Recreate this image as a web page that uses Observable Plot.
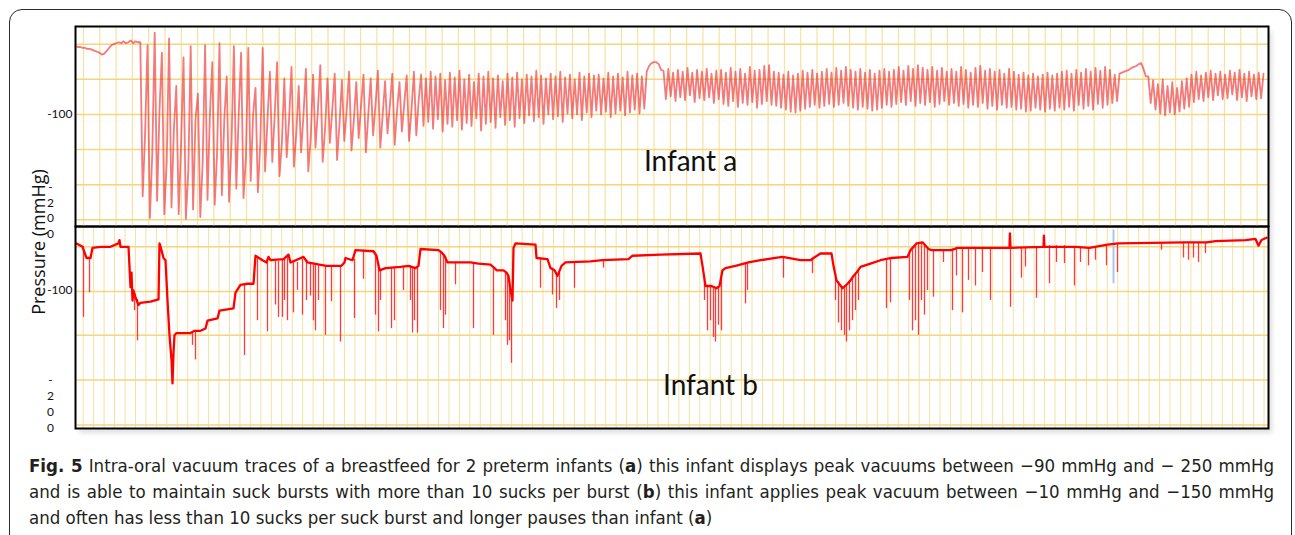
<!DOCTYPE html>
<html><head><meta charset="utf-8">
<script src="https://cdn.jsdelivr.net/npm/d3@7"></script>
<script src="https://cdn.jsdelivr.net/npm/@observablehq/plot@0.6"></script>
<style>
html,body{margin:0;padding:0;background:#fff;}
#wrap{position:relative;width:1295px;height:535px;overflow:hidden;}
#border{position:absolute;left:9px;top:9px;width:1283px;height:560px;border:1.5px solid #2b2b2b;border-radius:13px;box-sizing:border-box;}
#shadow{position:absolute;left:75px;top:26px;width:1193px;height:402px;box-shadow:4px 5px 5px rgba(0,0,0,0.13);background:#fff;}
#pa,#pb{position:absolute;left:0;}
#pa{top:0;z-index:3}
#pb{top:226px;z-index:2}
svg{overflow:visible}
#ytitle{position:absolute;left:38px;top:242px;transform:translate(-50%,-50%) rotate(-90deg);font-family:"Open Sans",sans-serif;font-size:18px;white-space:nowrap;color:#111;z-index:4}
#cap{position:absolute;left:29px;width:1245px;top:453px;font-family:"DejaVu Sans Condensed","DejaVu Sans",sans-serif;font-size:18.5px;line-height:26px;color:#231f20;z-index:4}
#cap div{white-space:nowrap;}
.j{text-align:justify;text-align-last:justify;}
</style></head>
<body>
<div id="wrap">
  <div id="border"></div>
  <div id="shadow"></div>
  <div id="pb"></div>
  <div id="pa"></div>
  <div id="ytitle">Pressure (mmHg)</div>
  <div id="cap">
    <div class="j"><b>Fig. 5</b> Intra-oral vacuum traces of a breastfeed for 2 preterm infants (<b>a</b>) this infant displays peak vacuums between −90 mmHg and − 250 mmHg</div>
    <div class="j">and is able to maintain suck bursts with more than 10 sucks per burst (<b>b</b>) this infant applies peak vacuum between −10 mmHg and −150 mmHg</div>
    <div>and often has less than 10 sucks per suck burst and longer pauses than infant (<b>a</b>)</div>
  </div>
</div>
<script>
// ---------- Infant a: intra-oral vacuum (mmHg), sampled every 1.2 s ----------
const aStep = 1.2;
const aPre = [-28,-29,-29,-30,-30,-31,-31,-32,-33,-34,-35,-37,-36,-33,-30,-27,-26,-25,-24,-25,-23,-25,-24,-22,-25,-23,-24];
const aBurst1 = [
 -24,-186,-120, -27,-209,-140, -14,-191,-95, -35,-205,-150, -20,-198,-115, -70,-205,-130,
 -40,-210,-160, -28,-200,-105, -78,-208,-150, -27,-190,-100, -45,-195,-140, -25,-185,-105,
 -60,-192,-130, -28,-178,-100, -35,-188,-145, -30,-170,-100, -72,-182,-130, -30,-160,-105,
 -55,-150,-100, -45,-165,-130, -62,-145,-105, -50,-155,-120, -70,-140,-100, -52,-160,-125,
 -58,-135,-95, -48,-150,-115, -62,-130,-95, -57,-148,-110, -64,-128,-95, -55,-138,-105,
 -66,-125,-90, -58,-140,-100, -62,-122,-90, -54,-135,-100, -65,-120,-90, -57,-132,-95,
 -66,-118,-88, -59,-128,-95, -55,-122,-85];
const aBurst2 = [
 -58,-112, -62,-108, -55,-115, -60,-105, -57,-118, -64,-110, -56,-113, -61,-106, -54,-116, -63,-109,
 -58,-112, -66,-104, -57,-117, -60,-110, -55,-108, -62,-114, -59,-103, -65,-111, -57,-106, -61,-113,
 -56,-104, -63,-109, -58,-101, -60,-107, -54,-103, -59,-110, -62,-100, -57,-105, -60,-102, -55,-108,
 -61,-99, -58,-104, -63,-100, -56,-106, -60,-98, -57,-103, -59,-96,
 -58,-100, -62,-97, -56,-103, -60,-99, -57,-96, -61,-101, -55,-98, -59,-95, -57,-99, -60,-94];
const aHump1 = [-55,-49,-46,-45,-45,-47,-53];
const aBurst3 = [
 -54,-84, -52,-81, -56,-86, -53,-82, -55,-85, -51,-80, -56,-87, -53,-83, -55,-85, -52,-82, -57,-88, -54,-84,
 -53,-89, -56,-91, -51,-86, -55,-92, -52,-88, -57,-90, -50,-87, -54,-93, -53,-89, -49,-86, -48,-90, -55,-91,
 -56,-93, -58,-95, -55,-97, -59,-98, -57,-96, -54,-94, -56,-92, -53,-90, -57,-93, -55,-91, -52,-89, -56,-92,
 -51,-90, -54,-88, -50,-91, -53,-93, -55,-95, -52,-92, -56,-94, -53,-96, -57,-95, -54,-93, -52,-90, -55,-92,
 -53,-89, -50,-87, -54,-90, -49,-86, -52,-91, -48,-88, -51,-90, -53,-87, -50,-92, -54,-89, -51,-86, -55,-90,
 -52,-88, -55,-91, -50,-89, -53,-93, -56,-90, -51,-92, -49,-88, -54,-94, -52,-91, -55,-95, -53,-90, -57,-93,
 -52,-92, -55,-95, -58,-94, -56,-97, -59,-96, -57,-93, -60,-95, -58,-97, -56,-94, -59,-96, -57,-93, -55,-95,
 -54,-92, -57,-96, -53,-90, -56,-94, -52,-91, -55,-95, -51,-89, -54,-93, -50,-90, -53,-88, -58,-86];
const aHump2 = [-57,-56,-55,-54,-53,-51,-50,-49,-47,-46,-52,-60];
const aBurst4 = [
 -60,-88, -64,-95, -68,-99, -63,-101, -70,-98, -66,-100, -72,-97, -65,-94, -62,-92,
 -58,-87, -55,-84, -59,-86, -56,-82, -54,-85, -57,-80, -55,-84, -58,-83, -54,-79, -56,-85, -53,-82, -57,-86, -55,-81, -58,-84, -56,-83,
 -57];
const aTicks = [-100, -200];
const aGridY = [-26, -63, -100, -137, -174, -211];

// ---------- Infant b: baseline vacuum [time s, mmHg] and suck spikes [time s, from, to] ----------
const bLevel = [
 [0.5,-58],[3.5,-61],[4.5,-66],[5.5,-71],[7.5,-71],[8.5,-62],[12.5,-61],[17.5,-61],[21.5,-58],[22,-55],
 [22.5,-61],[26.5,-61],[27.5,-97],[28,-84],[28.5,-109],[29,-100],[30,-106],[31.5,-113],[32.5,-111],[37.5,-110],
 [41.5,-108],[42,-58],[43,-64],[44,-71],[45,-73],[46,-109],[47,-140],[48,-162],[48.5,-183],[49,-156],
 [49.5,-140],[50.5,-138],[57.5,-138],[59.5,-136],[62.5,-136],[65,-134],[66,-127],[71,-125],[72,-118],[79,-116],
 [80,-102],[82.5,-95],[86,-94],[89,-94],[90,-69],[93.5,-73],[95.5,-75],[96.5,-70],[97.5,-73],[104,-72],
 [106.5,-68],[107.5,-75],[114,-70],[116,-75],[122,-77],[125.5,-78],[133,-78],[134.5,-75],[135,-71],[138.5,-73],
 [140,-64],[149,-65],[150.5,-69],[152,-82],[155,-80],[162.5,-79],[166.5,-78],[170,-80],[171.5,-78],[172.5,-63],
 [181.5,-64],[183,-66],[184.5,-69],[186,-75],[197.5,-75],[201.5,-76],[207.5,-77],[209.5,-80],[210.5,-82],[214,-82],
 [215.5,-84],[216.5,-87],[217.5,-100],[218.5,-109],[219,-62],[220,-58],[230,-59],[230.5,-71],[236,-72],[237.5,-80],
 [239.5,-82],[241,-87],[243,-78],[245,-75],[257.5,-74],[263.5,-73],[276.5,-72],[278.5,-69],[292.5,-68],[312.5,-67],
 [313.5,-78],[315,-96],[318,-96],[320.5,-98],[322,-96],[323.5,-82],[325,-80],[330,-78],[336.5,-75],[342.5,-73],
 [350,-71],[353.5,-70],[362.5,-73],[367.5,-73],[369,-71],[372.5,-67],[378,-67],[379,-78],[380.5,-91],[383.5,-98],
 [386,-94],[387.5,-91],[389,-87],[390.5,-84],[392.5,-79],[397.5,-76],[402.5,-73],[408,-71],[416,-70],[417.5,-64],
 [420.5,-58],[423.5,-57],[426.5,-63],[428,-64],[438,-64],[441,-62],[467,-62],[467.2,-49],[467.5,-62],[484,-61],
 [484.2,-51],[484.5,-61],[500,-61],[507,-62],[516,-59],[521.5,-58],[554.5,-57],[565.5,-57],[570,-56],[585,-55],
 [590,-54],[591.5,-60],[593,-55],[595.5,-53]];
const bSpikes = [
 [4,-61,-124],[7,-71,-102],[29.5,-104,-118],[31,-108,-145],[58.5,-138,-149],[60,-137,-162],[84.5,-95,-158],
 [91,-71,-127],[96,-74,-137],[100,-74,-113],[101.5,-74,-124],[103.5,-73,-124],[104.5,-72,-109],[106,-70,-127],
 [109,-75,-120],[111,-75,-100],[113.5,-72,-122],[115.5,-73,-109],[117.5,-76,-105],[119,-76,-127],[120,-76,-136],
 [121.5,-77,-109],[125,-78,-140],[128,-78,-110],[132.5,-78,-146],[139.5,-72,-125],[144,-64,-90],[150,-67,-122],
 [151.5,-75,-137],[152.5,-82,-109],[158,-80,-134],[159.5,-80,-127],[164,-79,-100],[167.5,-78,-109],[168.5,-79,-138],
 [169.5,-80,-127],[171,-79,-138],[182.5,-65,-118],[184,-68,-134],[185,-70,-122],[190,-75,-95],[199,-75,-134],
 [209,-79,-140],[215,-83,-127],[216,-86,-149],[217,-92,-145],[218,-105,-165],[232.5,-72,-98],[238.5,-80,-104],
 [240.5,-85,-116],[242,-84,-109],[249.5,-75,-98],[264,-73,-80],
 [314.5,-90,-109],[316,-96,-136],[317.5,-96,-127],[319,-97,-142],[320,-98,-146],[321.5,-97,-131],[323,-90,-136],
 [335,-76,-112],[336,-75,-100],[354,-70,-89],[368.5,-72,-85],[380,-85,-109],[381.5,-92,-129],[383,-96,-136],
 [384.5,-96,-140],[385.5,-95,-146],[387,-92,-136],[388.5,-88,-127],[390,-85,-118],[391.5,-81,-109],[405.5,-72,-116],
 [407.5,-71,-111],[417,-66,-109],[418.5,-62,-136],[420,-59,-127],[421.5,-58,-140],[423,-57,-109],[424.5,-60,-122],
 [426,-62,-100],[429,-64,-106],[434,-64,-75],[438.5,-63,-118],[440.5,-62,-87],[443.5,-62,-120],[446.5,-62,-91],
 [450,-62,-96],[453.5,-62,-84],[457.5,-62,-109],[467.5,-62,-115],[473,-62,-89],[475,-62,-79],[480.5,-61,-107],
 [487,-60,-94],[490.5,-60,-75],[494.5,-60,-76],[499.5,-61,-96],[502.5,-62,-75],[506.5,-62,-78],[510,-62,-73],
 [515.5,-60,-78],[521,-58,-84],[543,-58,-64],[554,-57,-71],[556.5,-57,-73],[559,-57,-71],[561.5,-57,-75],[565,-57,-67]];
const bMarkerT = [519];
const bMarkerRange = [-46, -94];
const bTicks = [-100, -200];
const bGridY = [-61, -101, -140, -180, -220];

const labelA = ["Infant a"];
const labelB = ["Infant b"];

// ---------- build ----------
const aVac = [...aPre, ...aBurst1, ...aBurst2, ...aHump1, ...aBurst3, ...aHump2, ...aBurst4];
const aSeries = aVac.map((v, i) => ({t: i * aStep, v}));
const bLine = bLevel.map(([t, v]) => ({t, v}));
const bSpk = bSpikes.map(([t, v1, v2]) => ({t, v1, v2}));
const tickText = v => (v === -200 ? String(v).split("").join("\n") : String(v));
const xDomain = [0, 596.5];
const gridXa = d3.range(4, 596, 8.15);
const gridXb = d3.range(3.85, 596, 5.225);

const tickMarks = (ticks) => [
  Plot.text(ticks.filter(v => v !== -200), {y: d => d, text: tickText, frameAnchor: "left", dx: -3, textAnchor: "end", fontSize: 12, fontFamily: "Lato, sans-serif", fill: "#111"}),
  Plot.text(ticks.filter(v => v === -200), {y: d => d, text: tickText, frameAnchor: "left", dx: -25, textAnchor: "middle", lineHeight: 1.33, fontSize: 12, fontFamily: "Lato, sans-serif", fill: "#111"})
];

const pa = Plot.plot({
  width: 1295, height: 226, marginLeft: 75, marginRight: 27, marginTop: 26, marginBottom: 0,
  style: {background: "transparent", overflow: "visible"},
  x: {domain: xDomain, axis: null},
  y: {domain: [-218, -7.4], axis: null},
  marks: [
    Plot.ruleX(gridXa, {stroke: "#f6e1a0", strokeWidth: 1.2}),
    Plot.ruleY(aGridY, {stroke: "#f4d67f", strokeWidth: 1.5}),
    Plot.line(aSeries, {x: "t", y: "v", stroke: "#ee3434", strokeWidth: 1.8, strokeOpacity: 0.66}),
    Plot.frame({stroke: "#000", strokeWidth: 2}),
    ...tickMarks(aTicks),
    Plot.text(labelA, {x: 307.5, y: -150.5, text: d => d, fontSize: 28, fontFamily: "Lato, sans-serif", fill: "#111"})
  ]
});
document.getElementById("pa").appendChild(pa);

const pb = Plot.plot({
  width: 1295, height: 202, marginLeft: 75, marginRight: 27, marginTop: 0, marginBottom: 0,
  style: {background: "transparent", overflow: "visible"},
  x: {domain: xDomain, axis: null},
  y: {domain: [-223.2, -42.9], axis: null},
  marks: [
    Plot.ruleX(gridXb, {stroke: "#f6e1a0", strokeWidth: 1}),
    Plot.ruleY(bGridY, {stroke: "#f4d67f", strokeWidth: 1.5}),
    Plot.ruleX(bMarkerT, {y1: bMarkerRange[0], y2: bMarkerRange[1], stroke: "#a9c9ec", strokeWidth: 2}),
    Plot.ruleX(bSpk, {x: "t", y1: "v1", y2: "v2", stroke: "#ff1a1a", strokeWidth: 1.3, strokeOpacity: 0.85}),
    Plot.line(bLine, {x: "t", y: "v", stroke: "#ff0000", strokeWidth: 2.3}),
    Plot.frame({stroke: "#000", strokeWidth: 2}),
    ...tickMarks(bTicks),
    Plot.text(labelB, {x: 317.5, y: -185.7, text: d => d, fontSize: 28, fontFamily: "Lato, sans-serif", fill: "#111"})
  ]
});
document.getElementById("pb").appendChild(pb);
</script>
</body></html>
